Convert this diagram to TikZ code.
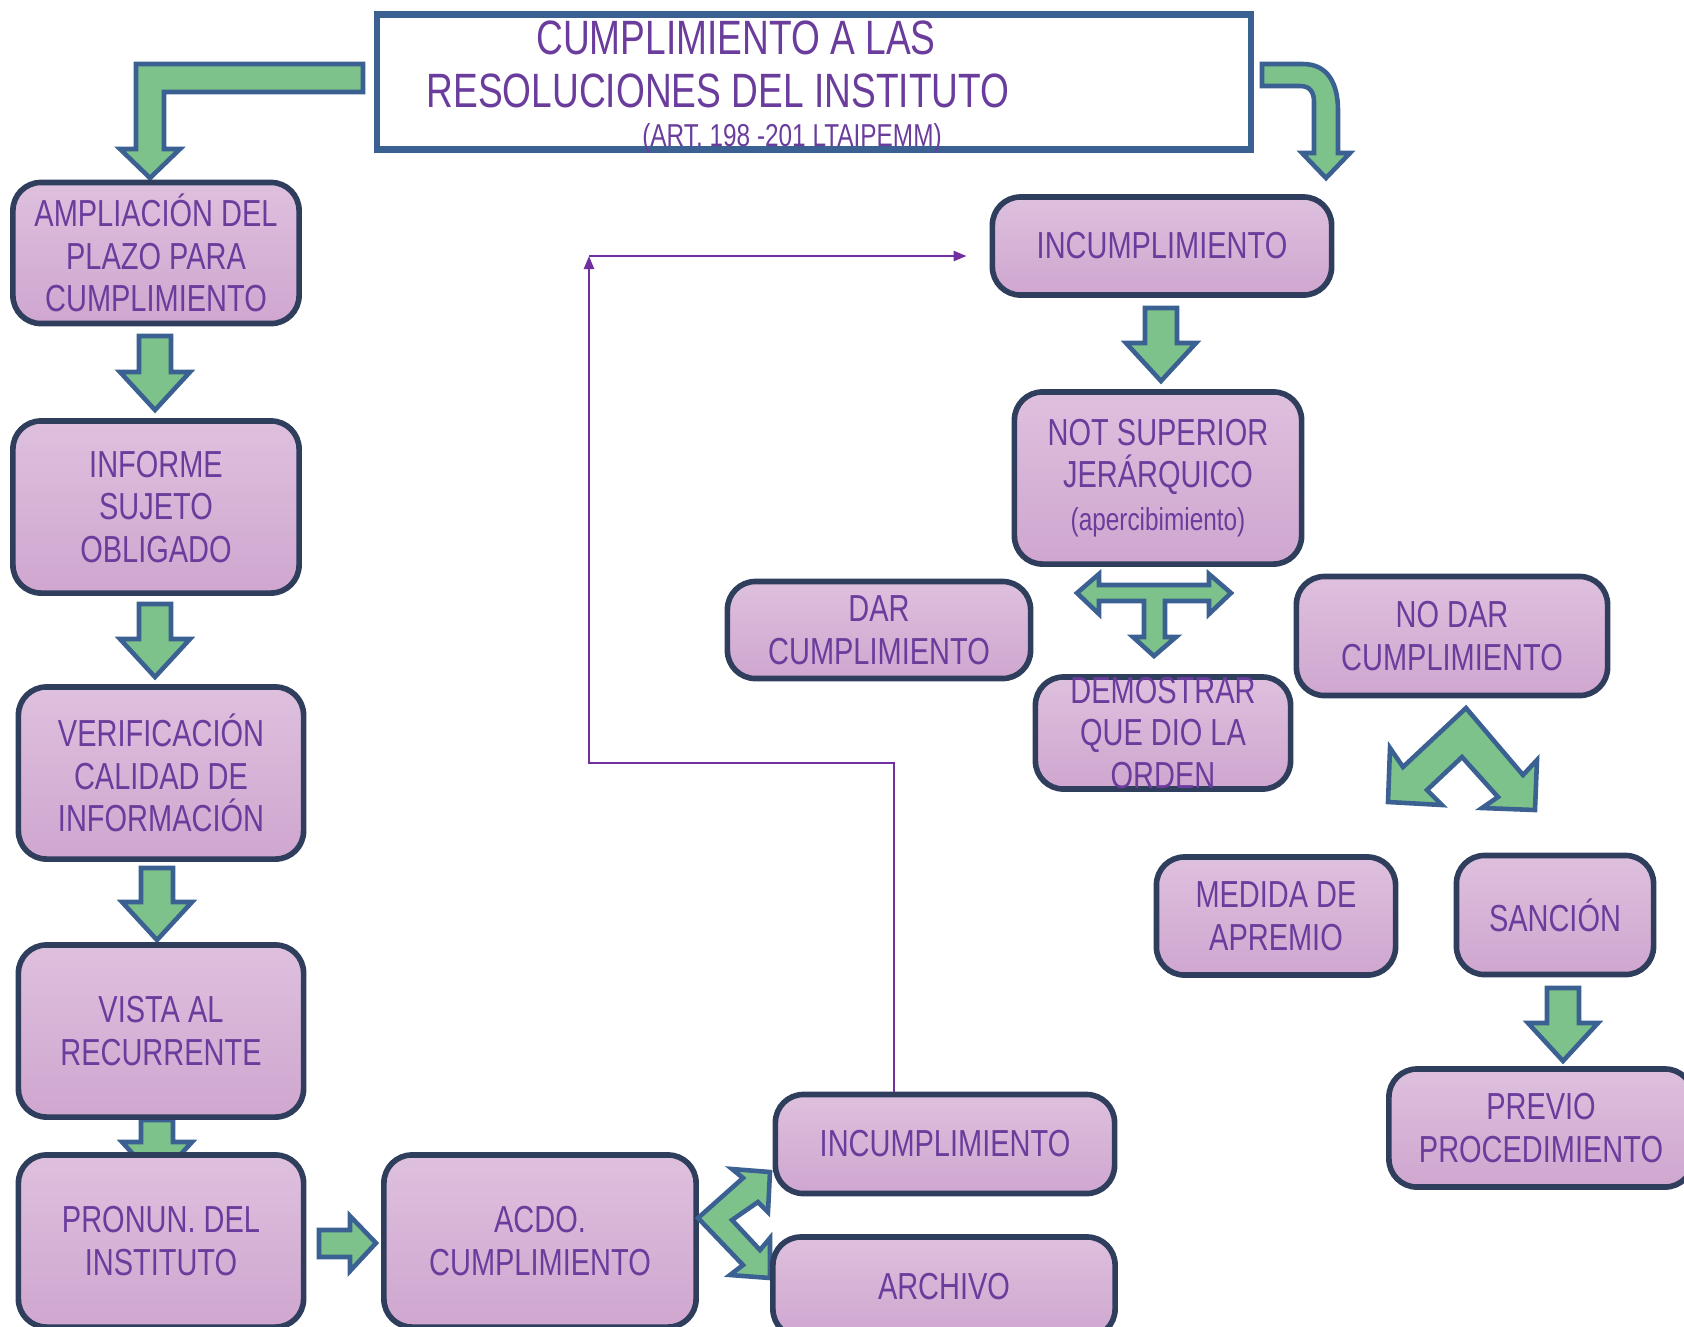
\documentclass[tikz,border=0pt]{standalone}
\usepackage{fontspec}
\setmainfont[FakeStretch=0.77]{Liberation Sans}
\usetikzlibrary{arrows.meta}

\definecolor{boxtop}{HTML}{DEC0DE}
\definecolor{boxbot}{HTML}{CFA6CF}
\definecolor{boxline}{HTML}{2F3E5C}
\definecolor{txtpur}{HTML}{6A3C9C}
\definecolor{arrfill}{HTML}{7EC28B}
\definecolor{arrline}{HTML}{3B6192}
\definecolor{linkpur}{HTML}{7030A0}

\tikzset{
  box/.style={draw=boxline, line width=1.6pt, rounded corners=0.28cm,
    top color=boxtop, bottom color=boxbot, text=txtpur, align=center,
    inner sep=0pt, font=\fontsize{10.7}{12.1}\selectfont},
  boxtxt/.style={text=txtpur, align=center, inner sep=0pt,
    font=\fontsize{10.7}{12.1}\selectfont},
  blk/.style={draw=arrline, line width=1.3pt, fill=arrfill, line join=miter},
  link/.style={draw=linkpur, line width=0.7pt, -{Triangle[length=0.13cm,width=0.1cm]}},
  ttl/.style={text=txtpur, inner sep=0pt, anchor=base},
  pics/downblk/.style={code={
    \draw[blk] (-16,0) -- (16,0) -- (16,#1-38) -- (35,#1-38) -- (0,#1)
      -- (-35,#1-38) -- (-16,#1-38) -- cycle;}},
}

\begin{document}
\begin{tikzpicture}[x=0.01cm,y=-0.01cm]
	\useasboundingbox (0,0) rectangle (1684,1326);

	% title
	\node[draw=arrline, line width=1.8pt, minimum width=8.74cm, minimum height=1.35cm, inner sep=0pt] (title) at (814,82) {};
	\node[ttl, font=\fontsize{13.7}{15}\selectfont] (ttlA) at (736,54) {CUMPLIMIENTO A LAS};
	\node[ttl, font=\fontsize{13.7}{15}\selectfont] (ttlB) at (718,107) {RESOLUCIONES DEL INSTITUTO};
	\node[ttl, font=\fontsize{9}{10}\selectfont] (ttlC) at (792,146) {(ART. 198 -201 LTAIPEMM)};

	% bent arrows from the title
	\draw[blk] (363,64) -- (136,64) -- (136,149) -- (120,149) -- (150,178) -- (180,149)
		-- (164,149) -- (164,92) -- (363,92) -- cycle;
	\draw[blk] (1262,64) -- (1303,64) .. controls (1328,64) and (1338,84) .. (1338,110)
		-- (1338,153) -- (1350,153) -- (1326,178) -- (1302,153) -- (1314,153) -- (1314,102)
		.. controls (1314,92) and (1310,86) .. (1300,86) -- (1262,86) -- cycle;

	% left column
	\pic at (155,336) {downblk=74};
	\pic at (155,604) {downblk=73};
	\pic at (157,868) {downblk=72};
	\pic at (157,1120) {downblk=60};
	\node[box, minimum width=2.86cm, minimum height=1.41cm] (ampl) at (156,253) {AMPLIACIÓN DEL\\PLAZO PARA\\CUMPLIMIENTO};
	\node[box, minimum width=2.86cm, minimum height=1.72cm] (informe) at (156,507) {INFORME\\SUJETO\\OBLIGADO};
	\node[box, minimum width=2.85cm, minimum height=1.72cm] (verif) at (161,773) {VERIFICACIÓN\\CALIDAD DE\\INFORMACIÓN};
	\node[box, minimum width=2.85cm, minimum height=1.72cm] (vista) at (161,1031) {VISTA AL\\RECURRENTE};
	\node[box, minimum width=2.85cm, minimum height=1.72cm] (pronun) at (161,1241) {PRONUN. DEL\\INSTITUTO};

	% bottom row
	\draw[blk] (319,1230) -- (350,1230) -- (350,1216) -- (376,1243) -- (350,1271) -- (350,1257) -- (319,1257) -- cycle;
	\node[box, minimum width=3.12cm, minimum height=1.72cm] (acdo) at (540,1241) {ACDO.\\CUMPLIMIENTO};
	\draw[blk] (698,1218) -- (743,1178) -- (732,1169) -- (770,1172) -- (768,1212) -- (758,1202)
		-- (732,1220) -- (760,1250) -- (770,1238) -- (770,1278) -- (730,1275) -- (743,1265) -- cycle;
	\node[box, minimum width=3.39cm, minimum height=0.99cm] (incB) at (945,1144) {INCUMPLIMIENTO};
	\node[box, minimum width=3.42cm, minimum height=1.0cm] (archivo) at (944,1287) {ARCHIVO};

	% right part
	\node[box, minimum width=3.39cm, minimum height=0.98cm] (incA) at (1162,246) {INCUMPLIMIENTO};
	\pic at (1161,308) {downblk=73};
	\node[box, minimum width=2.87cm, minimum height=1.72cm] (notsup) at (1158,478) {NOT SUPERIOR\\JERÁRQUICO\\{\fontsize{9}{10}\selectfont(apercibimiento)}};
	\draw[blk] (1077,593) -- (1099,574) -- (1099,585) -- (1209,585) -- (1209,574) -- (1231,593)
		-- (1209,614) -- (1209,601) -- (1165,601) -- (1165,637) -- (1176,637) -- (1154,656)
		-- (1133,637) -- (1144,637) -- (1144,601) -- (1099,601) -- (1099,614) -- cycle;
	\node[box, minimum width=3.03cm, minimum height=0.97cm] (dar) at (879,630) {DAR\\CUMPLIMIENTO};
	\node[box, minimum width=2.55cm, minimum height=1.12cm] (demo) at (1163,733) {};
	\node[boxtxt] (demoT) at (demo) {DEMOSTRAR\\QUE DIO LA\\ORDEN};
	\node[box, minimum width=3.11cm, minimum height=1.19cm] (nodar) at (1452,636) {NO DAR\\CUMPLIMIENTO};
	\draw[blk] (1466,708) -- (1523,775) -- (1537,760) -- (1535,810) -- (1482,808) -- (1498,797)
		-- (1462,757) -- (1427,790) -- (1442,805) -- (1388,802) -- (1390,748) -- (1403,767) -- cycle;
	\node[box, minimum width=2.39cm, minimum height=1.18cm] (medida) at (1276,916) {MEDIDA DE\\APREMIO};
	\node[box, minimum width=1.97cm, minimum height=1.19cm] (sancion) at (1555,915) {SANCIÓN};
	\pic at (1563,988) {downblk=73};
	\node[box, minimum width=3.04cm, minimum height=1.18cm] (previo) at (1541,1128) {PREVIO\\PROCEDIMIENTO};

	% back to the top
	\coordinate (bendA) at (894,763);
	\coordinate (bendB) at (589,763);
	\coordinate (bendC) at (589,256);
	\draw[link] (incB.north -| bendA) -- (bendA) -- (bendB) -- (bendC);
	\draw[link, shorten >=0.23cm] (bendC) -- (bendC -| incA.west);
\end{tikzpicture}
\end{document}
